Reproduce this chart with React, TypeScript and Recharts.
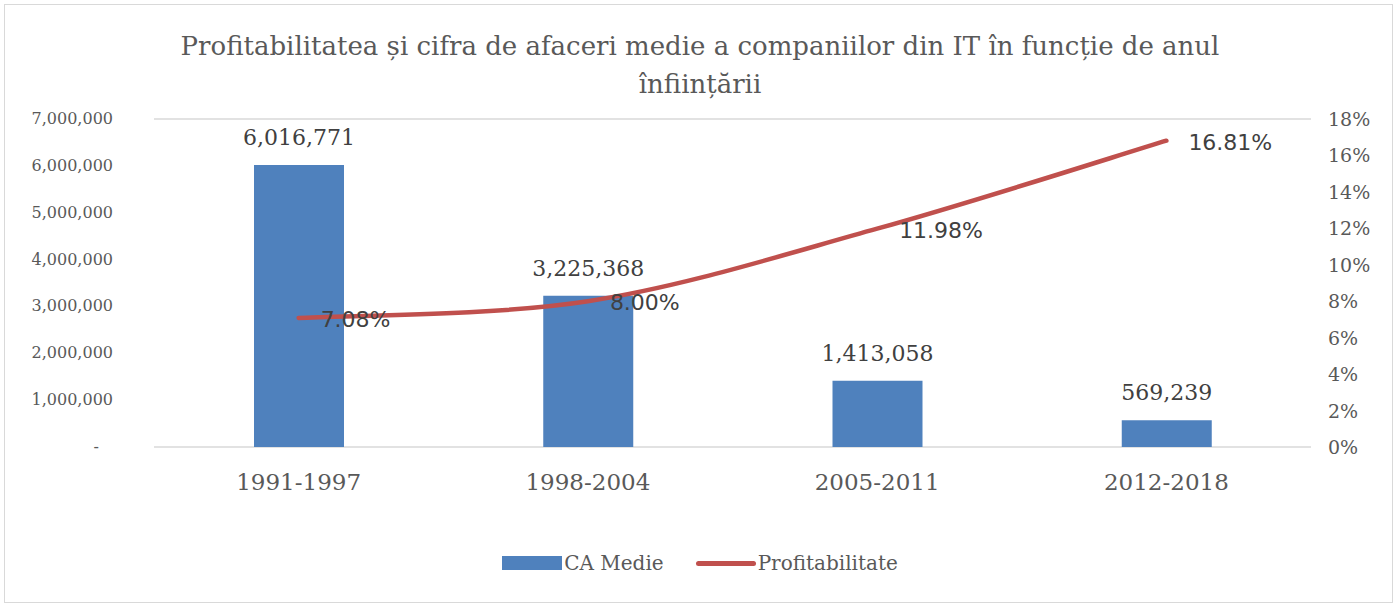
import React from "react";
import {
  ComposedChart,
  Bar,
  Line,
  XAxis,
  YAxis,
  CartesianGrid,
  LabelList,
} from "recharts";

const periods = ["1991-1997", "1998-2004", "2005-2011", "2012-2018"];
const caMedie = [6016771, 3225368, 1413058, 569239];
const profitabilitate = [0.0708, 0.08, 0.1198, 0.1681];
const leftTicks = [0, 1000000, 2000000, 3000000, 4000000, 5000000, 6000000, 7000000];
const rightTicks = [0, 0.02, 0.04, 0.06, 0.08, 0.1, 0.12, 0.14, 0.16, 0.18];

const data = periods.map((p, i) => ({
  period: p,
  ca: caMedie[i],
  profit: profitabilitate[i],
}));

const SERIF = "'DejaVu Serif', 'Liberation Serif', serif";
const SANS = "'DejaVu Sans', 'Liberation Sans', sans-serif";
const GREY = "#595959";
const BLUE = "#4F81BD";
const RED = "#C0504D";

// Excel-style smoothed line (Catmull-Rom as cubic Bezier)
const excelSmooth: any = (context: any) => {
  let pts: [number, number][] = [];
  return {
    areaStart() {},
    areaEnd() {},
    lineStart() {
      pts = [];
    },
    lineEnd() {
      if (!pts.length) return;
      context.moveTo(pts[0][0], pts[0][1]);
      for (let i = 0; i < pts.length - 1; i++) {
        const p0 = pts[Math.max(i - 1, 0)];
        const p1 = pts[i];
        const p2 = pts[i + 1];
        const p3 = pts[Math.min(i + 2, pts.length - 1)];
        context.bezierCurveTo(
          p1[0] + (p2[0] - p0[0]) / 6,
          p1[1] + (p2[1] - p0[1]) / 6,
          p2[0] - (p3[0] - p1[0]) / 6,
          p2[1] - (p3[1] - p1[1]) / 6,
          p2[0],
          p2[1]
        );
      }
    },
    point(x: number, y: number) {
      pts.push([+x, +y]);
    },
  };
};

const LeftTick = (props: any) => {
  const { x, y, payload } = props;
  const v = payload.value;
  return (
    <text
      x={v === 0 ? x - 14 : x}
      y={y}
      dy={5}
      textAnchor="end"
      fontFamily={SERIF}
      fontSize={16}
      fill={GREY}
    >
      {v === 0 ? "-" : v.toLocaleString("en-US")}
    </text>
  );
};

const RightTick = (props: any) => {
  const { x, y, payload } = props;
  return (
    <text x={x} y={y} dy={7} textAnchor="start" fontFamily={SERIF} fontSize={19} fill={GREY}>
      {Math.round(payload.value * 100) + "%"}
    </text>
  );
};

const XTick = (props: any) => {
  const { x, y, payload } = props;
  return (
    <text x={x} y={y} dy={19} textAnchor="middle" fontFamily={SERIF} fontSize={23} fill={GREY}>
      {payload.value}
    </text>
  );
};

const ProfitLabel = (props: any) => {
  const { x, y, value } = props;
  return (
    <text x={x + 22} y={y} dy={9} textAnchor="start" fontFamily={SANS} fontSize={22} fill="#404040">
      {(value * 100).toFixed(2) + "%"}
    </text>
  );
};

const App: React.FC = () => {
  return (
    <div
      style={{
        position: "absolute",
        left: 0,
        top: 0,
        width: 1400,
        height: 610,
        background: "#fff",
      }}
    >
      <div
        style={{
          position: "absolute",
          left: 4,
          top: 4,
          width: 1387,
          height: 597,
          border: "1px solid #d9d9d9",
        }}
      />
      <div
        style={{
          position: "absolute",
          left: 0,
          top: 27,
          width: 1400,
          textAlign: "center",
          fontFamily: SERIF,
          fontSize: 26,
          lineHeight: "38px",
          color: GREY,
        }}
      >
        Profitabilitatea și cifra de afaceri medie a companiilor din IT în funcție de anul
        <br />
        înființării
      </div>
      <ComposedChart
        width={1400}
        height={610}
        data={data}
        margin={{ top: 119, right: 0, bottom: 103, left: 0 }}
        style={{ position: "absolute", left: 0, top: 0 }}
      >
        <CartesianGrid vertical={false} stroke="#d9d9d9" strokeWidth={1.5} />
        <XAxis
          dataKey="period"
          axisLine={false}
          tickLine={false}
          height={60}
          tickMargin={18}
          tick={<XTick />}
        />
        <YAxis
          yAxisId="left"
          domain={[0, 7000000]}
          ticks={leftTicks}
          width={154}
          axisLine={false}
          tickLine={false}
          tickSize={0}
          tickMargin={41}
          tick={<LeftTick />}
        />
        <YAxis
          yAxisId="right"
          orientation="right"
          domain={[0, 0.18]}
          ticks={rightTicks}
          width={89}
          axisLine={false}
          tickLine={false}
          tickSize={0}
          tickMargin={17}
          tick={<RightTick />}
        />
        <Bar yAxisId="left" dataKey="ca" fill={BLUE} barSize={90} isAnimationActive={false}>
          <LabelList
            dataKey="ca"
            position="top"
            offset={20}
            formatter={(v: any) => Number(v).toLocaleString("en-US")}
            style={{ fontFamily: SERIF, fontSize: 22, fill: "#404040" }}
          />
        </Bar>
        <Line
          yAxisId="right"
          type={excelSmooth}
          dataKey="profit"
          stroke={RED}
          strokeWidth={4.5}
          strokeLinecap="round"
          dot={false}
          isAnimationActive={false}
        >
          <LabelList dataKey="profit" content={<ProfitLabel />} />
        </Line>
      </ComposedChart>
      <div
        style={{
          position: "absolute",
          left: 0,
          top: 551,
          width: 1400,
          display: "flex",
          justifyContent: "center",
          alignItems: "center",
          fontFamily: SERIF,
          fontSize: 20,
          color: GREY,
        }}
      >
        <span style={{ display: "inline-block", width: 60, height: 14, background: BLUE, marginRight: 2 }} />
        <span style={{ marginRight: 32 }}>CA Medie</span>
        <span
          style={{
            display: "inline-block",
            width: 60,
            height: 5,
            background: RED,
            borderRadius: 3,
            marginRight: 2,
          }}
        />
        <span>Profitabilitate</span>
      </div>
    </div>
  );
};

export default App;
